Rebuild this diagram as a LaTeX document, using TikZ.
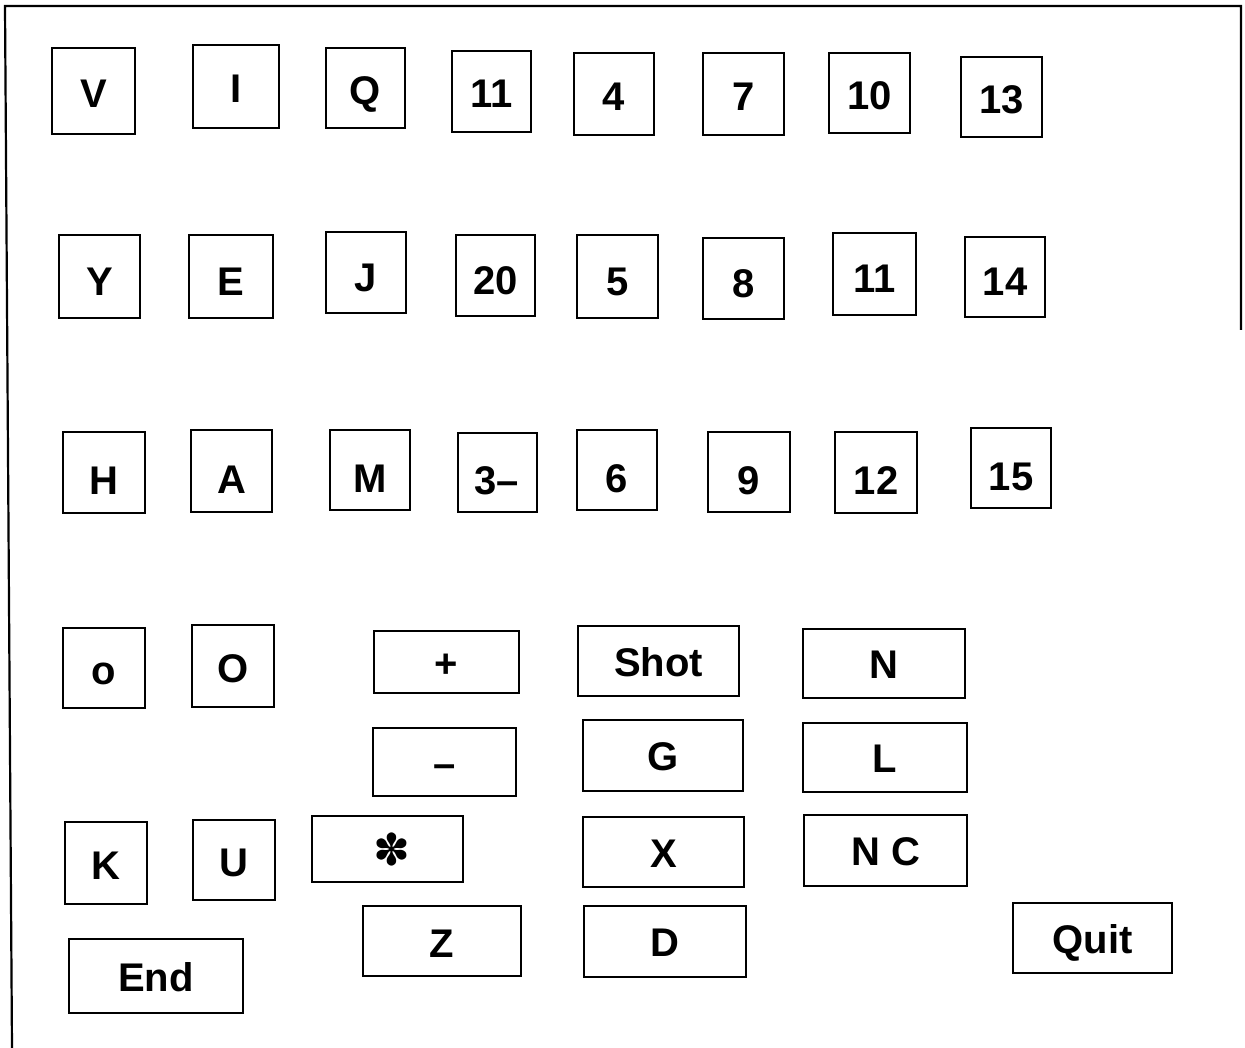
\documentclass[tikz,border=0pt]{standalone}
\usepackage{fontspec}
\setmainfont{Liberation Sans}
\newfontfamily\symfont{DejaVu Sans}
\begin{document}
\begin{tikzpicture}[x=1pt,y=-1pt,
  keybox/.style={draw=black, line width=2pt, inner sep=0pt, fill=white,
    text depth=0pt, text height=30.6pt,
    font=\fontsize{40}{42}\selectfont\bfseries},
  rowa/.style={keybox, text height=32.6pt},
  rowb/.style={keybox, text height=37.6pt},
  rowc/.style={keybox, text height=44pt},
  frameline/.style={draw=black, line width=2.2pt}]
\useasboundingbox (0,0) rectangle (1245,1048);
% outer frame
\coordinate (ftl) at (5,6);
\coordinate (ftr) at (1241,6);
\coordinate (fbr) at (1241,330);
\coordinate (fbl) at (12,1048);
\draw[frameline] (fbl) -- (ftl) -- (ftr) -- (fbr);
% row 1
\node[rowa, minimum width=83, minimum height=86] (kV) at (93.5,91) {V};
\node[rowa, minimum width=86, minimum height=83] (kI) at (236,86.5) {I};
\node[rowa, minimum width=79, minimum height=80] (kQ) at (365.5,88) {Q};
\node[rowa, minimum width=79, minimum height=81] (k11a) at (491.5,91.5) {11};
\node[rowa, minimum width=80, minimum height=82] (k4) at (614,94) {4};
\node[rowa, minimum width=81, minimum height=82] (k7) at (743.5,94) {7};
\node[rowa, minimum width=81, minimum height=80] (k10) at (869.5,93) {10};
\node[rowa, minimum width=81, minimum height=80] (k13) at (1001.5,97) {13};
% row 2
\node[rowb, minimum width=81, minimum height=83] (kY) at (99.5,276.5) {Y};
\node[rowb, minimum width=84, minimum height=83] (kE) at (231,276.5) {E};
\node[rowb, minimum width=80, minimum height=81] (kJ) at (366,272.5) {J};
\node[rowb, minimum width=79, minimum height=81] (k20) at (495.5,275.5) {20};
\node[rowb, minimum width=81, minimum height=83] (k5) at (617.5,276.5) {5};
\node[rowb, minimum width=81, minimum height=81] (k8) at (743.5,278.5) {8};
\node[rowb, minimum width=83, minimum height=82] (k11b) at (874.5,274) {11};
\node[rowb, minimum width=80, minimum height=80] (k14) at (1005,277) {14};
% row 3
\node[rowc, minimum width=82, minimum height=81] (kH) at (104,472.5) {H};
\node[rowc, minimum width=81, minimum height=82] (kA) at (231.5,471) {A};
\node[rowc, minimum width=80, minimum height=80] (kM) at (370,470) {M};
\node[rowc, minimum width=79, minimum height=79] (k3) at (497,472.5) {3–};
\node[rowc, minimum width=80, minimum height=80] (k6) at (617,470) {6};
\node[rowc, minimum width=82, minimum height=80] (k9) at (749,472) {9};
\node[rowc, minimum width=82, minimum height=81] (k12) at (876,472.5) {12};
\node[rowc, minimum width=80, minimum height=80] (k15) at (1011,468) {15};
% lower keys
\node[rowa, minimum width=82, minimum height=80] (ko) at (104,668) {o};
\node[rowa, minimum width=82, minimum height=82] (kO) at (233,666) {O};
\node[keybox, minimum width=145, minimum height=62] (kplus) at (446.5,662) {+};
\node[keybox, minimum width=161, minimum height=70] (kShot) at (658.5,661) {Shot};
\node[keybox, minimum width=162, minimum height=69] (kN) at (884,663.5) {N};
\node[keybox, minimum width=143, minimum height=68] (kminus) at (444.5,762) {–};
\node[keybox, minimum width=160, minimum height=71] (kG) at (663,755.5) {G};
\node[keybox, minimum width=164, minimum height=69] (kL) at (885,757.5) {L};
\node[rowa, minimum width=82, minimum height=82] (kK) at (106,863) {K};
\node[rowa, minimum width=82, minimum height=80] (kU) at (234,860) {U};
\node[keybox, minimum width=151, minimum height=66, text height=32pt, font=\symfont\bfseries\fontsize{44}{46}\selectfont] (kstar) at (387.5,849) {\hspace*{9pt}✽};
\node[keybox, minimum width=161, minimum height=70] (kX) at (663.5,852) {X};
\node[keybox, minimum width=163, minimum height=71] (kNC) at (885.5,850.5) {N C};
\node[keybox, minimum width=158, minimum height=70, text height=33pt] (kZ) at (442,941) {Z};
\node[keybox, minimum width=162, minimum height=71] (kD) at (665,941.5) {D};
\node[keybox, minimum width=159, minimum height=70] (kQuit) at (1092.5,938) {Quit};
\node[keybox, minimum width=174, minimum height=74] (kEnd) at (156,976) {End};
\end{tikzpicture}
\end{document}
